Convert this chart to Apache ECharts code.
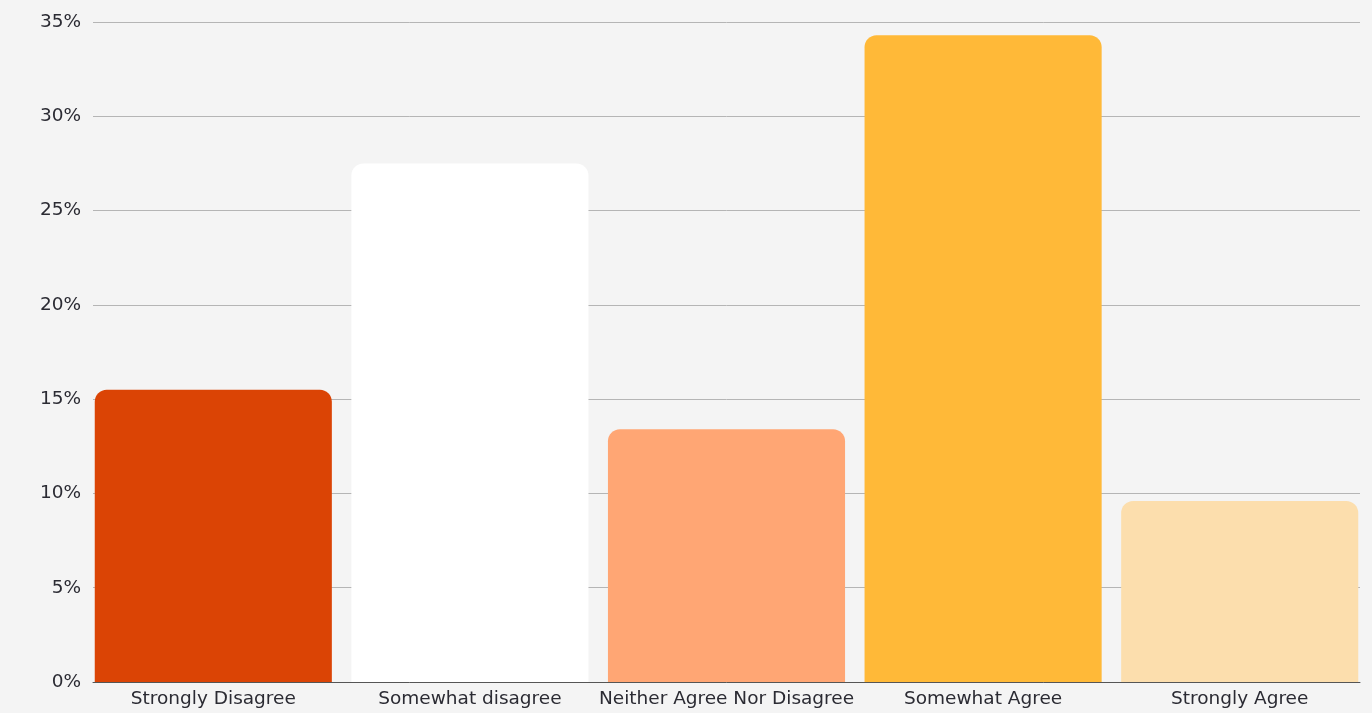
<!DOCTYPE html>
<html>
<head>
<meta charset="utf-8">
<script src="https://cdn.jsdelivr.net/npm/echarts@6/dist/echarts.min.js"></script>
<style>
  html, body { margin: 0; padding: 0; background: #f4f4f4; }
  #chart { width: 1372px; height: 713px; }
</style>
</head>
<body>
<div id="chart"></div>
<script>
// Survey response shares (percent)
const categories = ['Strongly Disagree', 'Somewhat disagree', 'Neither Agree Nor Disagree', 'Somewhat Agree', 'Strongly Agree'];
const shares = [15.5, 27.5, 13.4, 34.3, 9.6];
const barColors = ['#DB4405', '#FFFFFF', '#FFA674', '#FFB938', '#FCDEAD'];

const labelFont = 'DejaVu Sans';
const chart = echarts.init(document.getElementById('chart'));
chart.setOption({
  backgroundColor: '#f4f4f4',
  animation: false,
  grid: [
    // grid 0: value axis, gridlines and baseline
    { left: 93, right: 12, top: 22, bottom: 31 },
    // grid 1: the bars themselves, slightly wider band
    { left: 85, right: 4, top: 22, bottom: 31 }
  ],
  xAxis: [
    {
      gridIndex: 0,
      type: 'category',
      data: categories,
      axisTick: { show: false },
      axisLine: { show: true, lineStyle: { color: '#555', width: 1 } },
      axisLabel: { show: false }
    },
    {
      gridIndex: 1,
      type: 'category',
      data: categories,
      axisTick: { show: false },
      axisLine: { show: false },
      axisLabel: { interval: 0, color: '#2b2b33', fontSize: 18.5, fontFamily: labelFont, margin: 8 }
    }
  ],
  yAxis: [
    {
      gridIndex: 0,
      type: 'value',
      min: 0,
      max: 35,
      interval: 5,
      axisLine: { show: false },
      axisTick: { show: false },
      splitLine: { lineStyle: { color: '#b5b5b5', width: 1 } },
      axisLabel: { formatter: '{value}%', color: '#2b2b33', fontSize: 18.5, fontFamily: labelFont, margin: 12 }
    },
    {
      gridIndex: 1,
      type: 'value',
      min: 0,
      max: 35,
      interval: 5,
      show: false
    }
  ],
  series: [{
    type: 'bar',
    xAxisIndex: 1,
    yAxisIndex: 1,
    data: shares.map((v, i) => ({ value: v, itemStyle: { color: barColors[i] } })),
    barCategoryGap: '7.6%',
    itemStyle: { borderRadius: [12, 12, 0, 0] }
  }]
});
</script>
</body>
</html>
